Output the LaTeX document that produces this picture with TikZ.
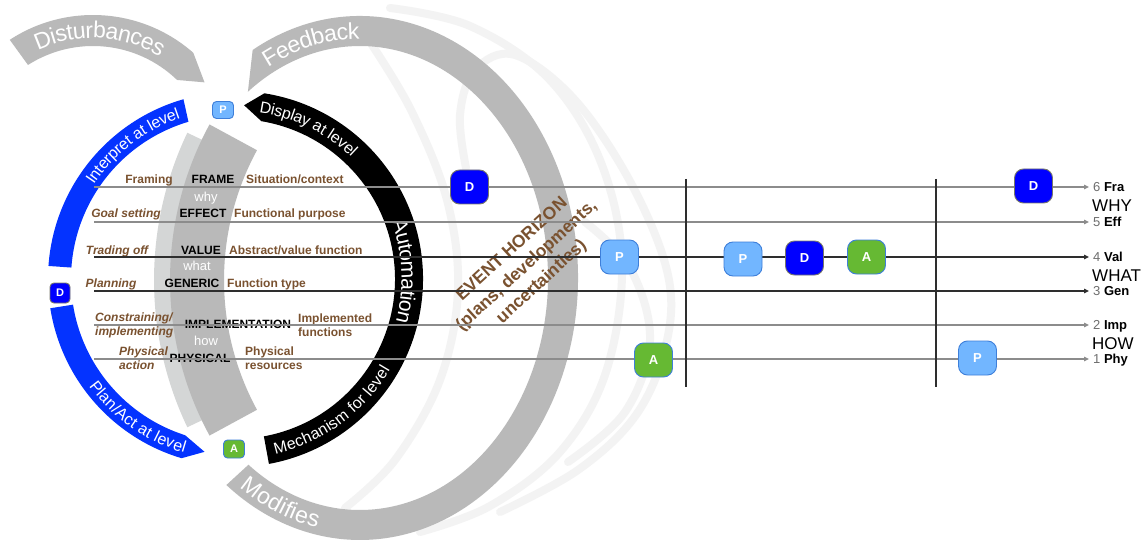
\documentclass[tikz,border=0pt]{standalone}
\usepackage{fontspec}
\setmainfont{Liberation Sans}
\usetikzlibrary{decorations.text,arrows.meta}
\definecolor{bandgray}{HTML}{B9B9B9}
\definecolor{lightband}{HTML}{D4D6D6}
\definecolor{ringblue}{HTML}{0433FF}
\definecolor{boxblue}{HTML}{0000FF}
\definecolor{boxedge}{HTML}{77776A}
\definecolor{plight}{HTML}{72B6FF}
\definecolor{pedge}{HTML}{3E7FDA}
\definecolor{agreen}{HTML}{66B933}
\definecolor{lblbrown}{HTML}{7A5230}
\definecolor{faintgray}{HTML}{F3F3F3}
\definecolor{linegray}{HTML}{8C8C8C}
\definecolor{linedark}{HTML}{2E2E2E}
\definecolor{numgray}{HTML}{6E6E6E}
\newcommand{\bandfont}{\fontsize{23}{23}\selectfont\color{white}}
\newcommand{\ringfont}{\fontsize{16}{16}\selectfont\color{white}}
\newcommand{\autofont}{\fontsize{21}{21}\selectfont\color{white}}
\tikzset{
  faint/.style={draw=faintgray, line width=8pt, line cap=round},
  lbl/.style={font=\fontsize{12}{14}\selectfont\bfseries, text=lblbrown, inner sep=0pt, text height=8.6pt, text depth=0pt},
  lbli/.style={lbl, font=\fontsize{12}{14}\selectfont\bfseries\itshape},
  lbltwo/.style={font=\fontsize{12}{14}\selectfont\bfseries, text=lblbrown, inner sep=0pt, anchor=west, align=left},
  lbltwoi/.style={lbltwo, font=\fontsize{12}{14}\selectfont\bfseries\itshape},
  lvl/.style={font=\fontsize{12}{14}\selectfont\bfseries, text=black, inner sep=0pt, text height=8.6pt, text depth=0pt},
  wq/.style={font=\fontsize{13}{14}\selectfont, text=white, inner sep=0pt, text height=6.8pt, text depth=0pt},
  box/.style={minimum width=38pt, minimum height=34pt, rounded corners=9pt, line width=0.9pt, font=\fontsize{13}{13}\selectfont\bfseries, text=white, inner sep=0pt},
  boxD/.style={box, fill=boxblue, draw=boxedge},
  boxP/.style={box, fill=plight, draw=pedge},
  boxA/.style={box, fill=agreen, draw=pedge},
  smallbox/.style={minimum width=21pt, minimum height=17pt, rounded corners=4pt, font=\fontsize{11}{11}\selectfont\bfseries},
  gline/.style={draw=linegray, line width=1.3pt, -{Triangle[length=5pt,width=4.5pt]}},
  dline/.style={draw=linedark, line width=1.5pt, -{Triangle[length=5pt,width=4.5pt]}},
  vline/.style={draw=linedark, line width=1.6pt},
  rl/.style={anchor=west, inner sep=0pt, font=\fontsize{13}{14}\selectfont, text height=9.3pt, text depth=0pt},
  big/.style={anchor=west, inner sep=0pt, font=\fontsize{17}{17}\selectfont, text height=12.2pt, text depth=0pt}
}
\begin{document}
\begin{tikzpicture}[x=1pt,y=1pt]
\useasboundingbox (0,0) rectangle (1143,-540);
\fill[white] (0,0) rectangle (1143,-540);

% faint decorative loops
\draw[faint] plot[smooth,tension=0.6] coordinates {(372,-45) (412,-112) (447,-200) (458,-290) (440,-380) (395,-460) (345,-508)};
\draw[faint] plot[smooth,tension=0.6] coordinates {(390,-8) (470,-26) (548,-78) (600,-160) (622,-262) (606,-372) (560,-452) (490,-506) (420,-532)};
\draw[faint] plot[smooth,tension=0.6] coordinates {(466,-168) (460,-115) (475,-70) (515,-55) (575,-100) (632,-185) (668,-275) (666,-345) (636,-415) (578,-470) (500,-512)};
\draw[faint] plot[smooth,tension=0.6] coordinates {(585,-222) (630,-268) (650,-340) (625,-412) (568,-462)};

% Disturbances band
\begin{scope}[shift={(93,-167)}]
  \fill[bandgray] (123.2:152) arc[start angle=123.2,end angle=48.7,radius=152] -- (37.2:140) -- (46:121) arc[start angle=46,end angle=122.5,radius=121] -- cycle;
  \path[decorate,decoration={text along path,text align=center,raise=-8pt,text={|\bandfont|Disturbances}}] (120:137) arc[start angle=120,end angle=54,radius=137];
\end{scope}

% Feedback / Modifies band
\begin{scope}[shift={(360,-278)}]
  \fill[bandgray] (119.5:218 and 262) arc[start angle=119.5,end angle=-127.8,x radius=218,y radius=262] -- (-126.4:188 and 232) arc[start angle=-126.4,end angle=126.6,x radius=188,y radius=232] -- cycle;
  \path[decorate,decoration={text along path,text align=center,raise=-8pt,text={|\bandfont|Feedback}}] (124:203 and 247) arc[start angle=124,end angle=84,x radius=203,y radius=247];
  \path[decorate,decoration={text along path,text align=center,raise=-8pt,text={|\bandfont|Modifies}}] (-130:203 and 247) arc[start angle=-130,end angle=-96,x radius=203,y radius=247];
\end{scope}

% inner gray bands
\begin{scope}[shift={(496,-280)}]
  \fill[lightband] (154.5:342) arc[start angle=154.5,end angle=205.5,radius=342] -- (205.5:300) arc[start angle=205.5,end angle=154.5,radius=300] -- cycle;
  \fill[bandgray] (151.5:326) arc[start angle=151.5,end angle=208.5,radius=326] -- (208.5:272) arc[start angle=208.5,end angle=151.5,radius=272] -- cycle;
\end{scope}

% ring
\begin{scope}[shift={(235,-279)}]
  \fill[ringblue] (106:187) arc[start angle=106,end angle=176,radius=187] -- (176:164) arc[start angle=176,end angle=106.5,radius=164] -- cycle;
  \fill[ringblue] (189:187) arc[start angle=189,end angle=253.4,radius=187] -- (260:175.5) -- (252.3:164) arc[start angle=252.3,end angle=189,radius=164] -- cycle;
  \fill[black] (87:174) -- (81:188) arc[start angle=81,end angle=-79.6,radius=188] -- (-79.6:160) arc[start angle=-79.6,end angle=80.5,radius=160] -- cycle;
  \path[decorate,decoration={text along path,text align=center,raise=-5.7pt,text={|\ringfont|Interpret at level}}] (160:175.5) arc[start angle=160,end angle=95,radius=175.5];
  \path[decorate,decoration={text along path,text align=center,raise=-5.7pt,text={|\ringfont|Plan/Act at level}}] (200:175.5) arc[start angle=200,end angle=270,radius=175.5];
  \path[decorate,decoration={text along path,text align=center,raise=-5.7pt,text={|\ringfont|Display at level}}] (100:174) arc[start angle=100,end angle=28,radius=174];
  \path[decorate,decoration={text along path,text align=center,raise=-7.5pt,text={|\autofont|Automation}}] (40:174) arc[start angle=40,end angle=-35,radius=174];
  \path[decorate,decoration={text along path,text align=center,raise=-5.7pt,text={|\ringfont|Mechanism for level}}] (-90:174) arc[start angle=-90,end angle=-17.4,radius=174];
\end{scope}

% left labels
\node[lbl] (framing) at (149,-179) {Framing};
\node[lbli] (goal) at (126,-213) {Goal setting};
\node[lbli] (trade) at (117,-250) {Trading off};
\node[lbli] (planning) at (111,-283) {Planning};
\node[lbltwoi] (constr) at (95,-325) {Constraining/\\implementing};
\node[lbltwoi] (physact) at (119,-358) {Physical\\action};

% level names
\node[lvl] (frame) at (213,-179) {FRAME};
\node[wq] (why) at (206,-198) {why};
\node[lvl] (effect) at (203,-213) {EFFECT};
\node[lvl] (value) at (201,-250) {VALUE};
\node[wq] (what) at (197,-267) {what};
\node[lvl] (generic) at (192,-283) {GENERIC};
\node[lvl] (impl) at (238,-324) {IMPLEMENTATION};
\node[wq] (how) at (206,-342) {how};
\node[lvl] (phys) at (200,-358) {PHYSICAL};

% right descriptions
\node[lbl,anchor=west] (sit) at (246,-179) {Situation/context};
\node[lbl,anchor=west] (fpur) at (234,-213) {Functional purpose};
\node[lbl,anchor=west] (absv) at (229,-250) {Abstract/value function};
\node[lbl,anchor=west] (ftype) at (227,-283) {Function type};
\node[lbltwo] (implf) at (298,-325) {Implemented\\functions};
\node[lbltwo] (physr) at (245,-358) {Physical\\resources};

% event horizon
\node[rotate=42.5, align=center, inner sep=0pt, font=\fontsize{17.5}{22}\selectfont\bfseries, text=lblbrown] (eh) at (527,-266) {EVENT HORIZON\\(plans, developments,\\uncertainties)};

% right level labels
\node[rl] (l6) at (1093,-187) {\textcolor{numgray}{6} \textbf{Fra}};
\node[rl] (l5) at (1093,-222) {\textcolor{numgray}{5} \textbf{Eff}};
\node[rl] (l4) at (1093,-257) {\textcolor{numgray}{4} \textbf{Val}};
\node[rl] (l3) at (1093,-291) {\textcolor{numgray}{3} \textbf{Gen}};
\node[rl] (l2) at (1093,-325) {\textcolor{numgray}{2} \textbf{Imp}};
\node[rl] (l1) at (1093,-359) {\textcolor{numgray}{1} \textbf{Phy}};
\node[big] (why2) at (1092,-205) {WHY};
\node[big] (what2) at (1092,-275) {WHAT};
\node[big] (how2) at (1092,-343) {HOW};

% level lines
\coordinate (s6) at (94,-187);
\coordinate (s5) at (94,-222);
\coordinate (s4) at (94,-257);
\coordinate (s3) at (94,-291);
\coordinate (s2) at (94,-325);
\coordinate (s1) at (94,-359);
\draw[gline] (s6) -- ([xshift=-4pt]l6.west);
\draw[gline] (s5) -- ([xshift=-4pt]l5.west);
\draw[dline] (s4) -- ([xshift=-4pt]l4.west);
\draw[dline] (s3) -- ([xshift=-4pt]l3.west);
\draw[gline] (s2) -- ([xshift=-4pt]l2.west);
\draw[gline] (s1) -- ([xshift=-4pt]l1.west);

% vertical separators
\coordinate (v1t) at (686,-179);
\coordinate (v1b) at (686,-387);
\coordinate (v2t) at (936,-179);
\coordinate (v2b) at (936,-387);
\draw[vline] (v1t) -- (v1b);
\draw[vline] (v2t) -- (v2b);

% boxes on the timeline
\node[boxD] (d1) at (469.5,-187) {D};
\node[boxP] (p1) at (619.5,-257) {P};
\node[boxA] (a1) at (653.5,-360) {A};
\node[boxP] (p2) at (743,-259) {P};
\node[boxD] (d2) at (804.5,-258) {D};
\node[boxA] (a2) at (866.5,-257) {A};
\node[boxD] (d3) at (1033.5,-186) {D};
\node[boxP] (p3) at (977.5,-358) {P};

% small boxes on ring
\node[boxP,smallbox] (ps) at (223,-110) {P};
\node[boxD,smallbox,minimum width=20pt,minimum height=20pt] (ds) at (60,-293) {D};
\node[boxA,smallbox,minimum height=18pt] (as) at (234,-449) {A};
\end{tikzpicture}
\end{document}
